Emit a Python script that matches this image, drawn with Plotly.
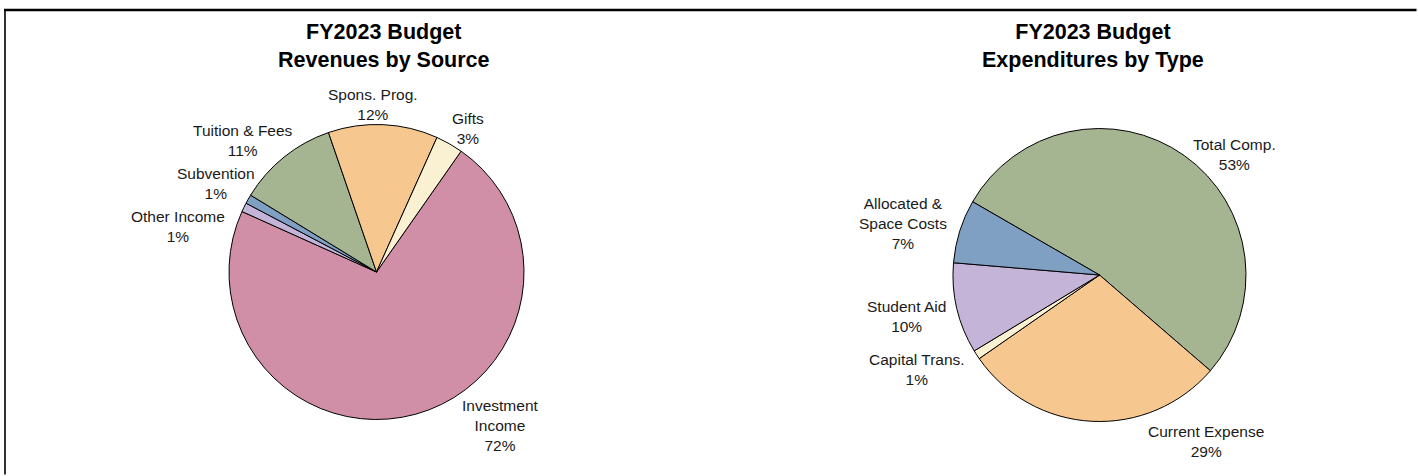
import plotly.graph_objects as go

# ---- data ----
rev_labels = ["Investment<br>Income", "Other Income", "Subvention",
              "Tuition & Fees", "Spons. Prog.", "Gifts"]
rev_values = [72, 1, 1, 11, 12, 3]
rev_colors = ["#D08FA6", "#C4B4D8", "#7F9FC3", "#A5B592", "#F6C78F", "#FAF0D2"]

exp_labels = ["Total Comp.", "Current Expense", "Capital Trans.",
              "Student Aid", "Allocated &<br>Space Costs"]
exp_values = [53, 29, 1, 10, 7]
exp_colors = ["#A5B592", "#F6C78F", "#FAF0D2", "#C4B4D8", "#7F9FC3"]

rev_title = "FY2023 Budget<br>Revenues by Source"
exp_title = "FY2023 Budget<br>Expenditures by Type"

# ---- layout geometry (pixels) ----
W, H = 1418, 476
FONT = "Arial, Liberation Sans, sans-serif"


def px_x(x):
    return x / W


def px_y(y):
    return 1 - y / H


def pie_domain(cx, cy, r):
    return dict(x=[px_x(cx - r), px_x(cx + r)], y=[px_y(cy + r), px_y(cy - r)])


# label anchor points for each slice, in pixel coordinates
rev_label_pos = [(500, 425.5), (178, 226), (216, 184), (243, 140.5), (373, 104.5), (468, 129)]
exp_label_pos = [(1234, 154.5), (1206, 441), (917, 369.5), (906, 316), (903, 223)]

fig = go.Figure()

fig.add_trace(go.Pie(
    labels=rev_labels, values=rev_values, sort=False, direction="clockwise",
    rotation=35, textinfo="none", hoverinfo="label+percent",
    marker=dict(colors=rev_colors, line=dict(color="black", width=1)),
    domain=pie_domain(376.5, 272, 147.5), showlegend=False,
))
fig.add_trace(go.Pie(
    labels=exp_labels, values=exp_values, sort=False, direction="clockwise",
    rotation=-60, textinfo="none", hoverinfo="label+percent",
    marker=dict(colors=exp_colors, line=dict(color="black", width=1)),
    domain=pie_domain(1099.5, 275, 146.5), showlegend=False,
))

annotations = []


def add_labels(labels, values, positions):
    total = sum(values)
    for lab, val, (x, y) in zip(labels, values, positions):
        pct = round(val / total * 100)
        annotations.append(dict(
            x=px_x(x), y=px_y(y), xref="paper", yref="paper",
            text=f"{lab}<br>{pct}%", showarrow=False, align="center",
            xanchor="center", yanchor="middle",
            font=dict(family=FONT, size=15.5, color="#1a1a1a"),
        ))


add_labels(rev_labels, rev_values, rev_label_pos)
add_labels(exp_labels, exp_values, exp_label_pos)

for text, cx in [(rev_title, 383.5), (exp_title, 1092.5)]:
    annotations.append(dict(
        x=px_x(cx), y=px_y(45.5), xref="paper", yref="paper",
        text=f"<b>{text}</b>", showarrow=False, align="center",
        xanchor="center", yanchor="middle",
        font=dict(family=FONT, size=21.5, color="black"),
    ))

# frame rules drawn as headless annotation arrows:
# heavy rule across the top, thin rule down the left side
annotations.append(dict(
    x=px_x(4), y=px_y(10), xref="paper", yref="paper", text="",
    showarrow=True, arrowhead=0, arrowwidth=2.6, arrowcolor="black",
    ax=W - 4, ay=0, axref="pixel", ayref="pixel", standoff=0, startstandoff=0,
))
annotations.append(dict(
    x=px_x(5), y=px_y(10), xref="paper", yref="paper", text="",
    showarrow=True, arrowhead=0, arrowwidth=1.6, arrowcolor="black",
    ax=0, ay=H - 10, axref="pixel", ayref="pixel", standoff=0, startstandoff=0,
))

fig.update_layout(
    width=W, height=H, margin=dict(l=0, r=0, t=0, b=0),
    paper_bgcolor="white", plot_bgcolor="white",
    annotations=annotations,
)

fig.write_html("out.html", config={"displayModeBar": False})
